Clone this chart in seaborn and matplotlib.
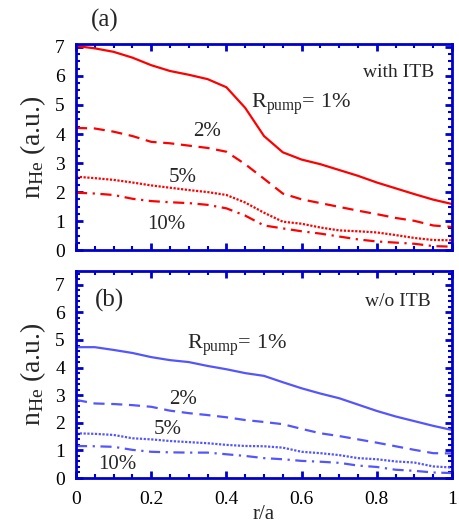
import numpy as np
import pandas as pd
import seaborn as sns
import matplotlib.pyplot as plt
from matplotlib.ticker import MultipleLocator

r = [0.00, 0.05, 0.10, 0.15, 0.20, 0.25, 0.30, 0.35, 0.40, 0.45, 0.50,
     0.55, 0.60, 0.65, 0.70, 0.75, 0.80, 0.85, 0.90, 0.95, 1.00]
x_ticks = [0, 0.2, 0.4, 0.6, 0.8, 1.0]
x_ticklabels = ['0', '0.2', '0.4', '0.6', '0.8', '1']

# (a) with ITB
itb_1 = [7.03, 6.95, 6.83, 6.63, 6.37, 6.17, 6.04, 5.89, 5.61, 4.90, 3.93,
         3.37, 3.12, 2.96, 2.76, 2.56, 2.33, 2.13, 1.93, 1.74, 1.59]
itb_2 = [4.21, 4.19, 4.08, 3.93, 3.73, 3.68, 3.60, 3.52, 3.39, 2.96, 2.46,
         1.95, 1.75, 1.62, 1.49, 1.36, 1.24, 1.11, 1.01, 0.85, 0.80]
itb_5 = [2.53, 2.48, 2.42, 2.33, 2.23, 2.15, 2.07, 2.00, 1.90, 1.64, 1.29,
         0.98, 0.91, 0.78, 0.68, 0.65, 0.61, 0.52, 0.42, 0.35, 0.34]
itb_10 = [1.98, 1.95, 1.90, 1.77, 1.69, 1.65, 1.62, 1.56, 1.44, 1.19, 0.85,
          0.75, 0.65, 0.57, 0.47, 0.37, 0.30, 0.26, 0.22, 0.14, 0.12]

# (b) w/o ITB
noitb_1 = [4.74, 4.74, 4.64, 4.53, 4.38, 4.27, 4.20, 4.06, 3.94, 3.80, 3.70,
           3.47, 3.25, 3.06, 2.89, 2.66, 2.43, 2.23, 2.06, 1.89, 1.74]
noitb_2 = [2.83, 2.70, 2.68, 2.64, 2.58, 2.44, 2.35, 2.28, 2.20, 2.10, 2.03,
           1.95, 1.78, 1.62, 1.52, 1.40, 1.28, 1.15, 1.02, 0.90, 0.89]
noitb_5 = [1.62, 1.60, 1.56, 1.44, 1.40, 1.34, 1.30, 1.26, 1.20, 1.16, 1.15,
           1.10, 0.95, 0.90, 0.83, 0.72, 0.68, 0.60, 0.56, 0.42, 0.38]
noitb_10 = [1.16, 1.15, 1.13, 1.02, 0.95, 0.93, 0.92, 0.92, 0.86, 0.80, 0.72,
            0.68, 0.62, 0.59, 0.55, 0.45, 0.40, 0.30, 0.26, 0.20, 0.18]

pumps = ['1%', '2%', '5%', '10%']
dashes = {'1%': '', '2%': (5, 3), '5%': (1, 0.7), '10%': (5, 2.5, 1, 2.5)}

sns.set_style("white")
plt.rcParams.update({
    'font.family': ['Liberation Serif', 'DejaVu Serif'],
    'mathtext.fontset': 'custom',
    'mathtext.rm': 'Liberation Serif',
    'mathtext.it': 'Liberation Serif:italic',
    'font.size': 14,
})

BLUE_AX = '#0000CC'


def make_df(series):
    rows = []
    for p, vals in zip(pumps, series):
        for x, v in zip(r, vals):
            rows.append({'r': x, 'n': v, 'pump': p})
    return pd.DataFrame(rows)


def style_axis(ax, ymax, yminor):
    ax.set_xlim(0, 1)
    ax.set_ylim(0, ymax)
    ax.set_xticks(x_ticks)
    ax.set_xticklabels(x_ticklabels)
    ax.xaxis.set_minor_locator(MultipleLocator(0.05))
    ax.set_yticks(range(0, 8))
    ax.yaxis.set_minor_locator(MultipleLocator(yminor))
    for s in ax.spines.values():
        s.set_color(BLUE_AX)
        s.set_linewidth(2)
        s.set_visible(True)
    ax.tick_params(which='both', direction='in', color=BLUE_AX, top=True, right=True,
                   bottom=True, left=True, labelcolor='black')
    ax.tick_params(which='major', length=5, width=2, labelsize=14)
    ax.tick_params(which='minor', length=3, width=1.5)
    ax.tick_params(axis='y', pad=8)
    ax.tick_params(axis='x', pad=9)
    ax.set_ylabel(r'$\mathregular{n_{He}}$ (a.u.)', fontsize=20, labelpad=5)


fig = plt.figure(figsize=(4.59, 5.30), dpi=100)
ax_a = fig.add_axes([0.1656, 0.528, 0.8191, 0.389])
ax_b = fig.add_axes([0.1656, 0.0981, 0.8191, 0.3906])

sns.lineplot(data=make_df([itb_1, itb_2, itb_5, itb_10]), x='r', y='n', style='pump',
             dashes=dashes, color='#FF0000', linewidth=1.6, legend=False, ax=ax_a)
sns.lineplot(data=make_df([noitb_1, noitb_2, noitb_5, noitb_10]), x='r', y='n', style='pump',
             dashes=dashes, color='#5555FF', linewidth=1.6, legend=False, ax=ax_b)

style_axis(ax_a, 7.1, 0.25)
style_axis(ax_b, 7.5, 0.2)
ax_a.set_xlabel('')
ax_a.tick_params(axis='x', labelbottom=False)
ax_b.set_xlabel('r/a', fontsize=15, labelpad=-2)

# panel (a) annotations
fig.text(0.229, 0.962, '(a)', fontsize=18, ha='center', va='center')
ax_a.text(0.952, 0.864, 'with ITB', transform=ax_a.transAxes, ha='right', va='center', fontsize=14)
ax_a.text(0.465, 5.03, r'R$\mathregular{_{pump}}$= 1%', ha='left', va='center', fontsize=16)
ax_a.text(0.348, 4.07, '2%', ha='center', va='center', fontsize=15)
ax_a.text(0.285, 2.50, '5%', ha='center', va='center', fontsize=15)
ax_a.text(0.240, 0.90, '10%', ha='center', va='center', fontsize=15)

# panel (b) annotations
ax_b.text(0.088, 6.45, '(b)', ha='center', va='center', fontsize=18)
ax_b.text(0.944, 6.38, 'w/o ITB', ha='right', va='center', fontsize=14)
ax_b.text(0.295, 4.82, r'R$\mathregular{_{pump}}$= 1%', ha='left', va='center', fontsize=16)
ax_b.text(0.285, 2.83, '2%', ha='center', va='center', fontsize=15)
ax_b.text(0.243, 1.74, '5%', ha='center', va='center', fontsize=15)
ax_b.text(0.110, 0.49, '10%', ha='center', va='center', fontsize=15)

fig.savefig('out.png', dpi=100)
